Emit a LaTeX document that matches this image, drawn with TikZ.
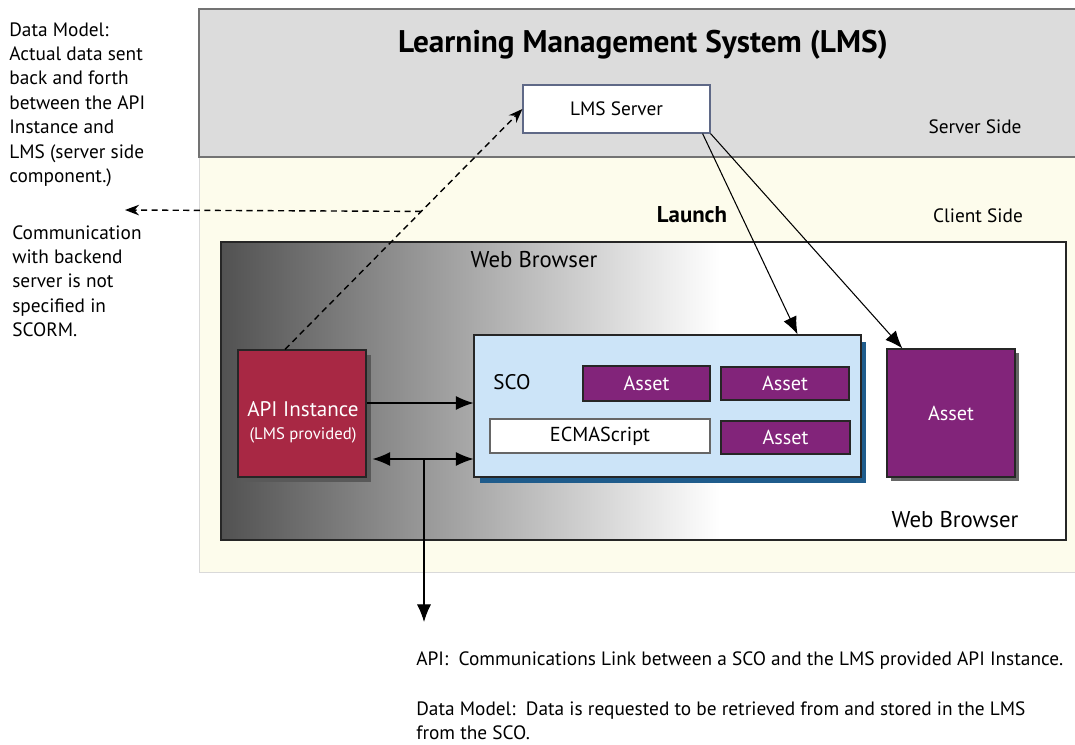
\documentclass[tikz,border=0pt]{standalone}
\usepackage{fontspec}
\setmainfont{PT Sans}
\usetikzlibrary{arrows.meta,calc,positioning,shadows}
\definecolor{srvgray}{RGB}{220,220,220}
\definecolor{clientyellow}{RGB}{253,252,236}
\definecolor{apired}{RGB}{168,40,68}
\definecolor{assetpurple}{RGB}{130,36,122}
\definecolor{scoblue}{RGB}{204,228,248}
\definecolor{scoshadow}{RGB}{31,92,140}
\definecolor{lmsborder}{RGB}{95,105,135}

\tikzset{
  box/.style={draw=black!85, line width=0.7pt, inner sep=0pt, align=center},
  asset/.style={box, fill=assetpurple, text=white, font=\fontsize{11.5}{13}\selectfont},
  arr/.style={-{Latex[length=10pt,width=8pt]}, line width=0.6pt},
  dasharr/.style={-{Stealth[length=8pt,width=6pt]}, line width=0.8pt, dash pattern=on 3.5pt off 2.5pt},
  note/.style={anchor=north west, inner sep=0pt, align=left, font=\fontsize{11}{13.9}\selectfont},
  plain/.style={inner sep=0pt, font=\fontsize{11}{13}\selectfont}
}

\begin{document}
\begin{tikzpicture}[x=0.02cm,y=-0.02cm]
\useasboundingbox (0,0) rectangle (1075,744);

% server side and client side
\filldraw[fill=clientyellow, draw=black!15] (199,157) rectangle (1080,572);
\filldraw[fill=srvgray, draw=black!55, line width=0.8pt] (199,9) rectangle (1080,157);

\node[font=\fontsize{17.8}{20}\selectfont\bfseries] (title) at (643,45) {Learning Management System (LMS)};
\node[box, draw=lmsborder, fill=white, minimum width=3.74cm, minimum height=0.96cm, font=\fontsize{11}{13}\selectfont] (lms) at (616.5,109) {LMS Server};
\node[plain] (serverside) at (975,127) {Server Side};
\node[plain] (clientside) at (978,216) {Client Side};
\node[plain, font=\fontsize{13}{15}\selectfont\bfseries] (launch) at (692,215) {Launch};

% web browser
\fill[white] (221,242) rectangle (1066,540);
\shade[left color=black!68, right color=white] (221,242) rectangle (720,540);
\draw[black!85, line width=0.8pt] (221,242) rectangle (1066,540);
\node[plain, font=\fontsize{13}{15}\selectfont] (wbtop) at (534,260) {Web Browser};
\node[plain, font=\fontsize{13}{15}\selectfont] (wbbottom) at (955,520) {Web Browser};

\node[box, fill=apired, minimum width=2.56cm, minimum height=2.54cm,
  drop shadow={shadow xshift=0.1cm, shadow yshift=-0.1cm, opacity=1, fill=black!65}] (api) at (302,413.5) {};
\node[plain, text=white, font=\fontsize{12}{14}\selectfont] (apiname) at (303,409) {API Instance};
\node[plain, text=white, font=\fontsize{9.5}{11}\selectfont] (apisub) at (303,435) {(LMS provided)};

\node[box, fill=scoblue, minimum width=7.74cm, minimum height=2.84cm,
  drop shadow={shadow xshift=0.11cm, shadow yshift=-0.13cm, opacity=1, fill=scoshadow}] (sco) at (667.5,406) {};
\node[plain, font=\fontsize{12}{14}\selectfont] (scolabel) at (512,382) {SCO};
\node[asset, minimum width=2.54cm, minimum height=0.7cm] (asset1) at (646.5,383.5) {Asset};
\node[asset, minimum width=2.56cm, minimum height=0.66cm] (asset2) at (785,383.5) {Asset};
\node[box, draw=black!60, fill=white, minimum width=4.4cm, minimum height=0.68cm, font=\fontsize{11.5}{13}\selectfont] (ecma) at (600,436) {ECMAScript};
\node[asset, minimum width=2.58cm, minimum height=0.66cm] (asset3) at (785.5,437.5) {Asset};

\node[asset, minimum width=2.56cm, minimum height=2.56cm,
  drop shadow={shadow xshift=0.08cm, shadow yshift=-0.08cm, opacity=1, fill=black!60}] (bigasset) at (951,413) {Asset};

% notes
\node[note] (datamodel) at (9,22) {Data Model:\\Actual data sent\\back and forth\\between the API\\Instance and\\LMS (server side\\component.)};
\node[note] (backend) at (12,225) {Communication\\with backend\\server is not\\specified in\\SCORM.};
\node[note] (apinote) at (416,651) {API:\ \ Communications Link between a SCO and the LMS provided API Instance.};
\node[note] (dmnote) at (416,701) {Data Model:\ \ Data is requested to be retrieved from and stored in the LMS\\from the SCO.};

% connectors
\coordinate (apitop) at ($(api.north)+(-17,0)$);
\draw[dasharr] (apitop) -- coordinate[pos=0.574] (branch) (lms.west);
\coordinate (dmtip) at (125,210);
\draw[dasharr] (branch) -- (dmtip);

\draw[arr] (api.east |- 0,403) -- (sco.west |- 0,403);
\coordinate (link) at (424,459);
\draw[arr, {Latex[length=10pt,width=8pt]}-{Latex[length=10pt,width=8pt]}] ($(api.east |- link)+(6,0)$) -- (sco.west |- link);
\coordinate (apidown) at (424,622);
\draw[arr] (link) -- (apidown);

\draw[arr] ($(lms.south east)+(-8,0)$) -- ($(sco.north east)+(-64,0)$);
\draw[arr] (lms.south east) -- ($(bigasset.north west)+(16,0)$);
\end{tikzpicture}
\end{document}
